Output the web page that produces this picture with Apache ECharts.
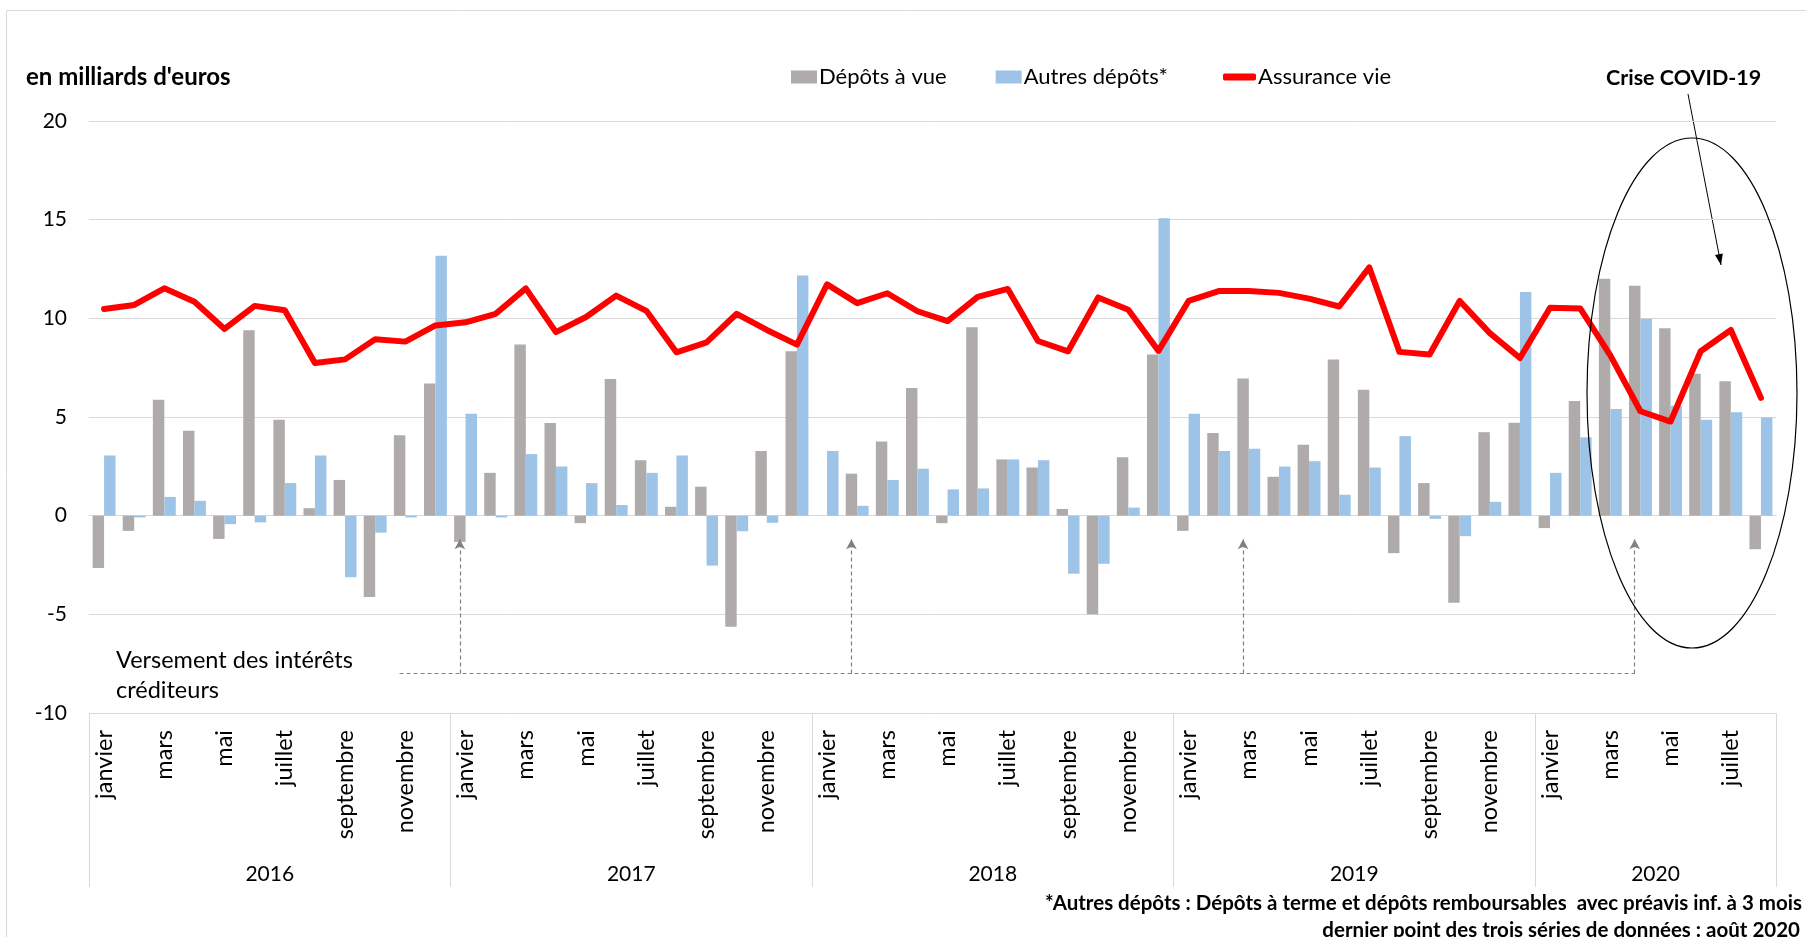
<!DOCTYPE html>
<html>
<head>
<meta charset="utf-8">
<title>Flux de placements</title>
<script src="https://cdn.jsdelivr.net/npm/echarts@6/dist/echarts.min.js"></script>
<style>
  html, body { margin: 0; padding: 0; background: #fff; }
  #chart { width: 1806px; height: 937px; }
</style>
</head>
<body>
<div id="chart"></div>
<script>
// mois, années
var mois = ['janvier', 'février', 'mars', 'avril', 'mai', 'juin', 'juillet', 'août', 'septembre', 'octobre', 'novembre', 'décembre'];
var annees = ['2016', '2017', '2018', '2019', '2020'];
var nbMois = [12, 12, 12, 12, 8];

// flux mensuels, en milliards d'euros
var depotsVue = [
  -2.65, -0.77, 5.88, 4.3, -1.18, 9.39, 4.86, 0.38, 1.81, -4.12, 4.07, 6.7,
  -1.33, 2.17, 8.67, 4.7, -0.38, 6.92, 2.81, 0.45, 1.47, -5.63, 3.28, 8.33,
  0, 2.13, 3.76, 6.47, -0.38, 9.55, 2.85, 2.44, 0.34, -5.0, 2.96, 8.17,
  -0.77, 4.19, 6.95, 1.97, 3.6, 7.92, 6.38, -1.9, 1.65, -4.41, 4.23, 4.71,
  -0.63, 5.81, 12.01, 11.65, 9.5, 7.19, 6.81, -1.7
];
var autresDepots = [
  3.05, -0.09, 0.95, 0.75, -0.43, -0.34, 1.65, 3.05, -3.12, -0.86, -0.09, 13.17,
  5.16, -0.09, 3.12, 2.49, 1.65, 0.54, 2.17, 3.05, -2.53, -0.79, -0.36, 12.17,
  3.28, 0.5, 1.81, 2.38, 1.33, 1.38, 2.85, 2.81, -2.94, -2.44, 0.41, 15.07,
  5.16, 3.28, 3.39, 2.49, 2.76, 1.06, 2.44, 4.03, -0.16, -1.04, 0.7, 11.33,
  2.17, 3.97, 5.41, 9.98, 5.57, 4.86, 5.24, 4.98
];
var assuranceVie = [
  10.47, 10.68, 11.52, 10.84, 9.46, 10.63, 10.41, 7.74, 7.92, 8.94, 8.82, 9.64,
  9.8, 10.23, 11.52, 9.3, 10.07, 11.15, 10.38, 8.28, 8.78, 10.23, 9.41, 8.67,
  11.72, 10.77, 11.27, 10.36, 9.86, 11.09, 11.49, 8.85, 8.33, 11.06, 10.43, 8.35,
  10.88, 11.38, 11.38, 11.29, 11.0, 10.6, 12.58, 8.3, 8.17, 10.88, 9.25, 7.99,
  10.54, 10.5, 8.12, 5.29, 4.77, 8.33, 9.41, 5.97
];

// mois où sont versés les intérêts créditeurs (index)
var versementIdx = [12, 25, 38, 51];
var versementDebut = 10;

var font = 'Lato, "Noto Sans", sans-serif';

// catégories uniques "mois|année"
var categories = [];
var yearTicks = [0];
var yearMid = [];
annees.forEach(function (a, i) {
  for (var m = 0; m < nbMois[i]; m++) {
    categories.push(mois[m] + '|' + a);
  }
  yearMid.push(yearTicks[i] + nbMois[i] / 2);
  yearTicks.push(yearTicks[i] + nbMois[i]);
});

// flèches "versement des intérêts"
var mlData = [
  [{ coord: [versementDebut, -8], symbol: 'none' }, { coord: [versementIdx[versementIdx.length - 1], -8], symbol: 'none' }]
];
versementIdx.forEach(function (i) {
  mlData.push([{ coord: [i, -8], symbol: 'none' }, { coord: [i, -1.2], symbol: 'arrow' }]);
});

var chart = echarts.init(document.getElementById('chart'));

// flèche "Crise COVID-19"
var a0 = [1688, 94], a1 = [1721, 265];
var dx = a1[0] - a0[0], dy = a1[1] - a0[1];
var len = Math.sqrt(dx * dx + dy * dy);
var ux = dx / len, uy = dy / len;
var head = [
  [a1[0], a1[1]],
  [a1[0] - 11 * ux - 4 * uy, a1[1] - 11 * uy + 4 * ux],
  [a1[0] - 11 * ux + 4 * uy, a1[1] - 11 * uy - 4 * ux]
];

var legendText = { fontSize: 22, color: '#000', fontFamily: font, padding: [0, 0, 0, -3] };

var option = {
  animation: false,
  textStyle: { fontFamily: font },
  grid: { left: 89, right: 30, top: 121, bottom: 224, containLabel: false },
  legend: [
    {
      left: 786,
      top: 61,
      itemWidth: 26,
      itemHeight: 13,
      itemGap: 49,
      icon: 'rect',
      textStyle: legendText,
      data: ['Dépôts à vue', 'Autres dépôts*']
    },
    {
      left: 1218,
      top: 61,
      itemWidth: 33,
      itemHeight: 7,
      icon: 'roundRect',
      textStyle: legendText,
      data: ['Assurance vie']
    }
  ],
  xAxis: [
    {
      type: 'category',
      data: categories,
      axisLine: { show: true, lineStyle: { color: '#D9D9D9', width: 1 } },
      axisTick: { show: false },
      axisLabel: {
        interval: 1,
        rotate: 90,
        margin: 17,
        fontSize: 23.5,
        color: '#000',
        fontFamily: font,
        formatter: function (v) { return v.split('|')[0]; }
      }
    },
    {
      type: 'value',
      min: 0,
      max: categories.length,
      position: 'bottom',
      axisLine: { show: false },
      splitLine: { show: false },
      axisTick: {
        show: true,
        customValues: yearTicks,
        length: 174,
        lineStyle: { color: '#D9D9D9', width: 1 }
      },
      axisLabel: {
        customValues: yearMid,
        margin: 151,
        fontSize: 21,
        color: '#000',
        fontFamily: font,
        formatter: function (v) {
          var i = yearMid.indexOf(v);
          return i >= 0 ? annees[i] : '';
        }
      }
    }
  ],
  yAxis: {
    type: 'value',
    min: -10,
    max: 20,
    interval: 5,
    axisLine: { show: false },
    axisTick: { show: false },
    splitLine: { lineStyle: { color: '#D9D9D9', width: 1 } },
    axisLabel: { fontSize: 21, color: '#000', margin: 22, fontFamily: font }
  },
  series: [
    {
      name: 'Dépôts à vue',
      type: 'bar',
      xAxisIndex: 0,
      data: depotsVue,
      barGap: '0%',
      barCategoryGap: '24%',
      itemStyle: { color: '#AFABAB' },
      markLine: {
        silent: true,
        symbolSize: [8, 10],
        label: { show: false },
        lineStyle: { color: '#808080', type: [4, 3], width: 1.2 },
        data: mlData
      }
    },
    {
      name: 'Autres dépôts*',
      type: 'bar',
      xAxisIndex: 0,
      data: autresDepots,
      itemStyle: { color: '#9DC3E6' }
    },
    {
      name: 'Assurance vie',
      type: 'line',
      xAxisIndex: 0,
      data: assuranceVie,
      symbol: 'none',
      z: 5,
      lineStyle: { color: '#FF0000', width: 6, cap: 'round', join: 'round' },
      itemStyle: { color: '#FF0000' }
    }
  ],
  graphic: [
    // cadre du graphique
    { type: 'rect', shape: { x: 6.5, y: 10.5, width: 1900, height: 1000 }, style: { fill: 'none', stroke: '#D9D9D9', lineWidth: 1 }, silent: true },
    { type: 'text', left: 26, top: 65, style: { text: "en milliards d'euros", font: 'bold 24px ' + font, fill: '#000' } },
    { type: 'text', left: 1606, top: 67, style: { text: 'Crise COVID-19', font: 'bold 21.5px ' + font, fill: '#000' } },
    { type: 'line', shape: { x1: a0[0], y1: a0[1], x2: a1[0], y2: a1[1] }, style: { stroke: '#000', lineWidth: 1 } },
    { type: 'polygon', shape: { points: head }, style: { fill: '#000' } },
    { type: 'ellipse', shape: { cx: 1692, cy: 393, rx: 105, ry: 255 }, style: { fill: 'none', stroke: '#000', lineWidth: 1.2 }, z: 10 },
    {
      type: 'text', left: 116, top: 645,
      style: { text: 'Versement des intérêts\ncréditeurs', font: '23.5px ' + font, lineHeight: 30, fill: '#000' }
    },
    {
      type: 'text', right: 4, top: 893,
      style: { text: '*Autres dépôts : Dépôts à terme et dépôts remboursables  avec préavis inf. à 3 mois', font: 'bold 20.5px ' + font, fill: '#000' }
    },
    {
      type: 'text', right: 6, top: 920,
      style: { text: 'dernier point des trois séries de données : août 2020', font: 'bold 20.5px ' + font, fill: '#000' }
    }
  ]
};

chart.setOption(option);
</script>
</body>
</html>
